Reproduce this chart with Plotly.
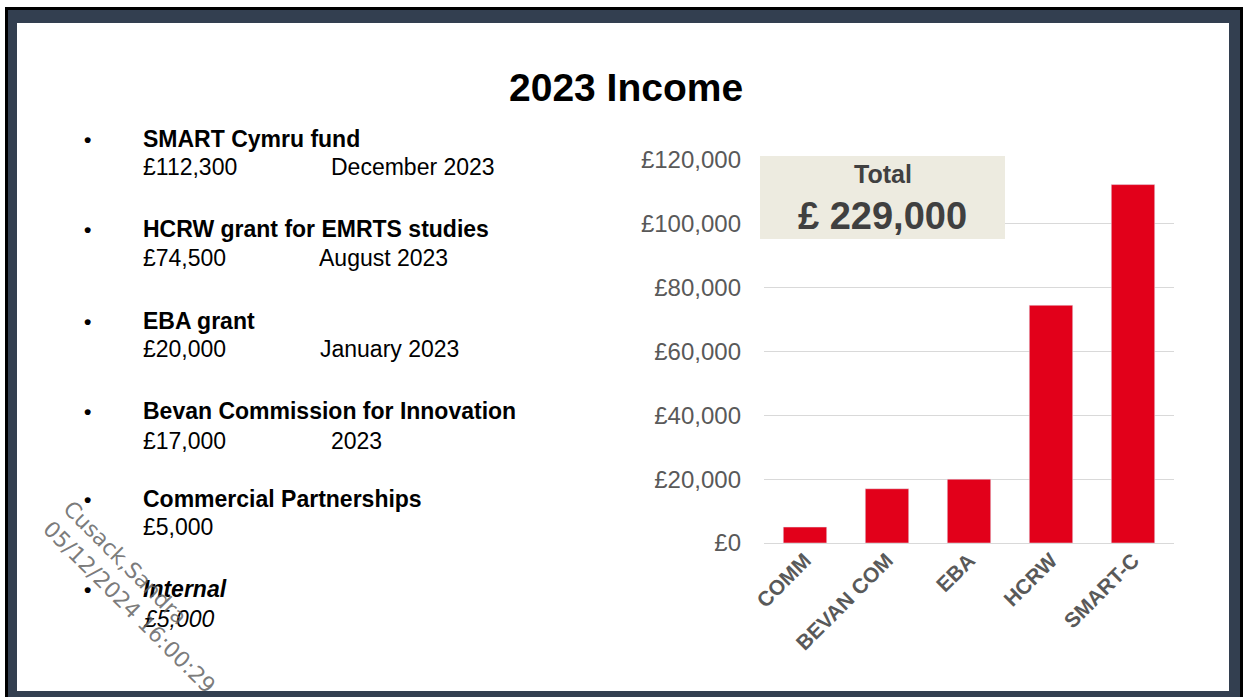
import plotly.graph_objects as go

# ---- data ----
categories = ["COMM", "BEVAN COM", "EBA", "HCRW", "SMART-C"]
values = [5000, 17000, 20000, 74500, 112300]
total_label = "£ 229,000"

item_names = ["SMART Cymru fund", "HCRW grant for EMRTS studies", "EBA grant",
              "Bevan Commission for Innovation", "Commercial Partnerships", "Internal"]
item_amounts = ["£112,300", "£74,500", "£20,000", "£17,000", "£5,000", "£5,000"]
item_dates = ["December 2023", "August 2023", "January 2023", "2023", "", ""]

W, H = 1249, 697
def px(x):
    return x / W
def py(y):
    return 1 - y / H

FONT = "Liberation Sans, Arial, sans-serif"
GREY = "#595959"

fig = go.Figure()
fig.add_trace(go.Bar(x=categories, y=values, marker=dict(color="#e2001a"),
                     width=0.53, showlegend=False, hoverinfo="skip"))

shapes = [
    dict(type="rect", xref="paper", yref="paper", x0=px(5), x1=px(1243), y0=py(700), y1=py(7),
         fillcolor="#000000", line=dict(width=0), layer="below"),
    dict(type="rect", xref="paper", yref="paper", x0=px(8), x1=px(1240), y0=py(700), y1=py(10),
         fillcolor="#333f50", line=dict(width=0), layer="below"),
    dict(type="rect", xref="paper", yref="paper", x0=px(17), x1=px(1229), y0=py(691), y1=py(23),
         fillcolor="#ffffff", line=dict(width=0), layer="below"),
    dict(type="rect", xref="paper", yref="paper", x0=px(760), x1=px(1005), y0=py(239), y1=py(156),
         fillcolor="#edebe0", line=dict(width=0), layer="above"),
]

ann = []
ann.append(dict(text="<b>2023 Income</b>", x=px(626), y=py(88), xref="paper", yref="paper",
                showarrow=False, xanchor="center", yanchor="middle",
                font=dict(family=FONT, size=39, color="#000000")))
ann.append(dict(text="<b>Total</b>", x=px(883), y=py(174), xref="paper", yref="paper",
                showarrow=False, xanchor="center", yanchor="middle",
                font=dict(family=FONT, size=25, color="#404040")))
ann.append(dict(text="<b>" + total_label + "</b>", x=px(883), y=py(216), xref="paper", yref="paper",
                showarrow=False, xanchor="center", yanchor="middle",
                font=dict(family=FONT, size=38, color="#404040")))

name_y = [139, 229, 321, 411, 499, 589]
amt_y = [167, 258, 349, 441, 527, 619]
date_x = [331, 319, 320, 331, 0, 0]
for i, name in enumerate(item_names):
    italic = (i == len(item_names) - 1)
    nm = "<b><i>" + name + "</i></b>" if italic else "<b>" + name + "</b>"
    am = "<i>" + item_amounts[i] + "</i>" if italic else item_amounts[i]
    ann.append(dict(text="<b>•</b>", x=px(82), y=py(name_y[i]), xref="paper", yref="paper",
                    showarrow=False, xanchor="left", yanchor="middle",
                    font=dict(family=FONT, size=21, color="#000000")))
    ann.append(dict(text=nm, x=px(141), y=py(name_y[i]), xref="paper", yref="paper",
                    showarrow=False, xanchor="left", yanchor="middle",
                    font=dict(family=FONT, size=23, color="#000000")))
    ann.append(dict(text=am, x=px(141), y=py(amt_y[i]), xref="paper", yref="paper",
                    showarrow=False, xanchor="left", yanchor="middle",
                    font=dict(family=FONT, size=23, color="#000000")))
    if item_dates[i]:
        ann.append(dict(text=item_dates[i], x=px(date_x[i] - 2), y=py(amt_y[i]), xref="paper", yref="paper",
                        showarrow=False, xanchor="left", yanchor="middle",
                        font=dict(family=FONT, size=23, color="#000000")))

ann.append(dict(text="Cusack,Sandra<br>05/12/2024 16:00:29", x=px(139), y=py(597),
                xref="paper", yref="paper", showarrow=False, textangle=45, align="left",
                xanchor="center", yanchor="middle",
                font=dict(family="DejaVu Sans", size=22, color="rgba(100,100,100,0.85)")))

fig.update_layout(
    width=W, height=H,
    margin=dict(l=0, r=0, t=0, b=0, pad=0, autoexpand=False),
    paper_bgcolor="#ffffff",
    plot_bgcolor="rgba(0,0,0,0)",
    shapes=shapes,
    annotations=ann,
    xaxis=dict(domain=[px(764), px(1174)], showgrid=False, showline=False, ticks="",
               tickangle=-45, automargin=False,
               tickfont=dict(family=FONT, size=21, color=GREY, weight="bold")),
    yaxis=dict(domain=[py(543), py(160)], range=[0, 120000], dtick=20000,
               tickformat=",", tickprefix="£", showgrid=True, gridcolor="#d9d9d9",
               gridwidth=1, zeroline=True, zerolinecolor="#d9d9d9", zerolinewidth=1,
               ticks="", ticklabelstandoff=22, automargin=False,
               tickfont=dict(family=FONT, size=24, color=GREY)),
)

fig.write_html("out.html", config={"displayModeBar": False},
               post_script="document.body.style.margin='0';document.body.style.overflow='hidden';document.documentElement.style.overflow='hidden';")
